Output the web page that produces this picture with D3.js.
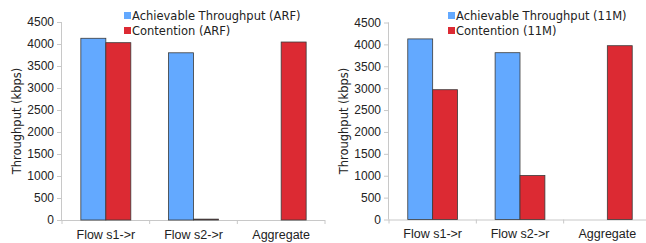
<!DOCTYPE html>
<html><head><meta charset="utf-8">
<script src="https://cdn.jsdelivr.net/npm/d3@7"></script>
<style>
html,body{margin:0;padding:0;background:#fff;}
svg{display:block;font-family:"DejaVu Sans",Verdana,sans-serif;}
</style></head>
<body><svg id="c" width="646" height="243"></svg>
<script>
const categories = ["Flow s1->r", "Flow s2->r", "Aggregate"];
const yTicks = [0, 500, 1000, 1500, 2000, 2500, 3000, 3500, 4000, 4500];
const seriesNamesARF = ["Achievable Throughput (ARF)", "Contention (ARF)"];
const achievableARF = [4130, 3800, null];
const contentionARF = [4030, 20, 4045];
const seriesNames11M = ["Achievable Throughput (11M)", "Contention (11M)"];
const achievable11M = [4125, 3810, null];
const contention11M = [2965, 1005, 3970];
const colors = ["#63a9ff", "#dc2a33"];

const svg = d3.select("#c");

function panel(opt) {
  const g = svg.append("g");
  const x = d3.scaleBand().domain(categories).range([opt.x0, opt.x1]);
  const inner = d3.scaleBand().domain([0, 1]).range([x.bandwidth() * 0.215, x.bandwidth() * 0.785]);
  const y = d3.scaleLinear().domain([0, 4500]).range([opt.yb, opt.yt]);

  // y axis
  const ya = g.append("g").attr("transform", `translate(${opt.x0},0)`)
    .call(d3.axisLeft(y).tickValues(yTicks).tickSize(5).tickPadding(3).tickFormat(d3.format("d")));
  ya.select(".domain").attr("stroke", "#c8c8c8").attr("d", `M-0.5,${opt.yt}V${opt.yb}`);
  ya.selectAll(".tick line").attr("stroke", "#c8c8c8");
  ya.selectAll(".tick text").attr("fill", "#222").style("font-size", "12px");

  // x axis
  const xa = g.append("g").attr("transform", `translate(0,${opt.yb})`)
    .call(d3.axisBottom(x).tickSize(0).tickPadding(10));
  xa.select(".domain").attr("stroke", "#c8c8c8").attr("d", `M${opt.x0},0.5H${opt.x1}`);
  xa.selectAll(".tick text").attr("fill", "#222").style("font-size", "12.5px");
  const bounds = categories.map(c => x(c)).concat([opt.x1]);
  g.append("g").selectAll("line").data(bounds).join("line")
    .attr("x1", d => d).attr("x2", d => d)
    .attr("y1", opt.yb).attr("y2", opt.yb + 4)
    .attr("stroke", "#c8c8c8");

  // axis title
  g.append("text")
    .attr("transform", `translate(${opt.x0 - 45},${(opt.yt + opt.yb) / 2}) rotate(-90)`)
    .attr("text-anchor", "middle").attr("dominant-baseline", "central")
    .style("font-size", "11.5px").attr("fill", "#222")
    .text("Throughput (kbps)");

  // bars
  opt.series.forEach((vals, si) => {
    g.append("g").selectAll("rect").data(vals.map((v, i) => ({v, c: categories[i]})).filter(d => d.v != null))
      .join("rect")
      .attr("x", d => x(d.c) + inner(si))
      .attr("width", inner.bandwidth())
      .attr("y", d => y(d.v))
      .attr("height", d => y(0) - y(d.v))
      .attr("fill", colors[si])
      .attr("stroke", "#3a3a3a").attr("stroke-width", 0.8);
  });

  // legend
  const lg = g.append("g").attr("transform", `translate(${opt.lx},${opt.ly})`);
  opt.names.forEach((n, i) => {
    lg.append("rect").attr("x", 0).attr("y", i * 15 - 4).attr("width", 7).attr("height", 7)
      .attr("fill", colors[i]);
    lg.append("text").attr("x", 8).attr("y", i * 15).attr("dominant-baseline", "central")
      .style("font-size", "11.5px").attr("fill", "#222").text(n);
  });
}

panel({x0: 62, x1: 325, yt: 22, yb: 220, series: [achievableARF, contentionARF], names: seriesNamesARF, lx: 124, ly: 16});
panel({x0: 389, x1: 651, yt: 22.5, yb: 219.5, series: [achievable11M, contention11M], names: seriesNames11M, lx: 448, ly: 16});
</script></body></html>
